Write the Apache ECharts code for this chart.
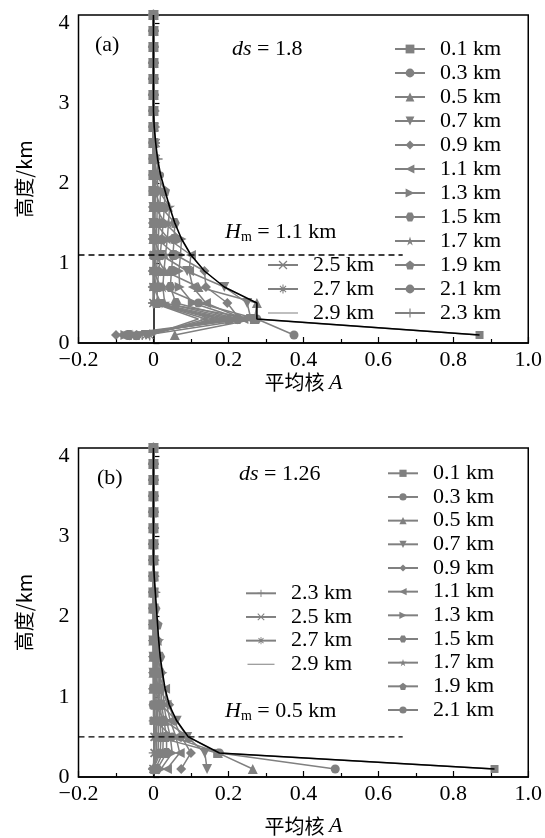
<!DOCTYPE html>
<html><head><meta charset="utf-8">
<script src="https://cdn.jsdelivr.net/npm/echarts@6/dist/echarts.min.js"></script>
<style>html,body{margin:0;padding:0;background:#fff}#c{width:545px;height:838px}</style>
</head><body><div id="c"></div>
<script>
// ---------- data ----------
const levels = [0.1,0.3,0.5,0.7,0.9,1.1,1.3,1.5,1.7,1.9,2.1,2.3,2.5,2.7,2.9,3.1,3.3,3.5,3.7,3.9,4.1];
const seriesNames = ['0.1 km','0.3 km','0.5 km','0.7 km','0.9 km','1.1 km','1.3 km','1.5 km','1.7 km','1.9 km','2.1 km','2.3 km','2.5 km','2.7 km','2.9 km'];
const xTickLabels = ['\u22120.2','0','0.2','0.4','0.6','0.8','1.0'];
const yTickLabels = ['0','1','2','3','4'];

// panel (a) averaging kernels, ds = 1.8
const a01 = [0.87,0.27,0.02,0,0,0,0,0,0,0,0,0,0,0,0,0,0,0,0,0,0];
const a03 = [0.375,0.276,0.12,0.02,0,0,0,0,0,0,0,0,0,0,0,0,0,0,0,0,0];
const a05 = [0.057,0.27,0.276,0.12,0.03,0.005,0,0,0,0,0,0,0,0,0,0,0,0,0,0,0];
const a07 = [-0.02,0.26,0.25,0.189,0.09,0.02,0,0,0,0,0,0,0,0,0,0,0,0,0,0,0];
const a09 = [-0.1,0.23,0.197,0.14,0.136,0.06,0.01,0,0,0,0,0,0,0,0,0,0,0,0,0,0];
const a11 = [-0.085,0.24,0.14,0.105,0.095,0.1,0.04,0.005,0,0,0,0,0,0,0,0,0,0,0,0,0];
const a13 = [-0.075,0.235,0.105,0.07,0.068,0.072,0.075,0.03,0.005,0,0,0,0,0,0,0,0,0,0,0,0];
const a15 = [-0.065,0.225,0.06,0.045,0.048,0.052,0.055,0.057,0.02,0.003,0,0,0,0,0,0,0,0,0,0,0];
const a17 = [-0.055,0.215,0.03,0.025,0.028,0.032,0.037,0.04,0.043,0.015,0.002,0,0,0,0,0,0,0,0,0,0];
const a19 = [-0.045,0.2,0.01,0.01,0.014,0.018,0.022,0.026,0.029,0.031,0.01,0.001,0,0,0,0,0,0,0,0,0];
const a21 = [-0.04,0.185,0,0.005,0.008,0.011,0.013,0.015,0.017,0.019,0.019,0.007,0,0,0,0,0,0,0,0,0];
const a23 = [-0.03,0.175,0,0,0.004,0.006,0.008,0.009,0.01,0.011,0.011,0.011,0.004,0,0,0,0,0,0,0,0];
const a25 = [-0.02,0.16,0,0,0,0.002,0.003,0.004,0.005,0.005,0.006,0.006,0.006,0.002,0,0,0,0,0,0,0];
const a27 = [-0.01,0.14,0,0,0,0,0,0.001,0.001,0.002,0.002,0.002,0.002,0.002,0.001,0,0,0,0,0,0];
const a29 = [-0.005,0.12,0,0,0,0,0,0,0,0,0.001,0.001,0.001,0.001,0.001,0,0,0,0,0,0];
const envA = [0.87,0.276,0.276,0.189,0.136,0.10,0.075,0.057,0.043,0.031,0.019,0.011,0.006,0.002,0,0,0,0,0,0,0];
const hmA = 1.1;

// panel (b) averaging kernels, ds = 1.26
const b01 = [0.91,0.17,0.01,0,0,0,0,0,0,0,0,0,0,0,0,0,0,0,0,0,0];
const b03 = [0.485,0.176,0.05,0.005,0,0,0,0,0,0,0,0,0,0,0,0,0,0,0,0,0];
const b05 = [0.265,0.172,0.093,0.03,0.005,0,0,0,0,0,0,0,0,0,0,0,0,0,0,0,0];
const b07 = [0.143,0.137,0.09,0.062,0.02,0.003,0,0,0,0,0,0,0,0,0,0,0,0,0,0,0];
const b09 = [0.074,0.1,0.075,0.055,0.042,0.015,0.002,0,0,0,0,0,0,0,0,0,0,0,0,0,0];
const b11 = [0.036,0.07,0.06,0.045,0.035,0.031,0.01,0.001,0,0,0,0,0,0,0,0,0,0,0,0,0];
const b13 = [0.02,0.05,0.045,0.035,0.028,0.025,0.024,0.008,0.001,0,0,0,0,0,0,0,0,0,0,0,0];
const b15 = [0.01,0.035,0.035,0.028,0.022,0.02,0.019,0.018,0.006,0.001,0,0,0,0,0,0,0,0,0,0,0];
const b17 = [0.005,0.025,0.026,0.022,0.018,0.016,0.015,0.014,0.014,0.004,0,0,0,0,0,0,0,0,0,0,0];
const b19 = [0,0.018,0.02,0.017,0.014,0.013,0.012,0.011,0.011,0.011,0.003,0,0,0,0,0,0,0,0,0,0];
const b21 = [0,0.012,0.014,0.012,0.01,0.009,0.009,0.008,0.008,0.008,0.008,0.002,0,0,0,0,0,0,0,0,0];
const b23 = [0,0.008,0.009,0.008,0.007,0.006,0.006,0.005,0.005,0.005,0.005,0.005,0.001,0,0,0,0,0,0,0,0];
const b25 = [0,0.004,0.005,0.004,0.004,0.003,0.003,0.003,0.003,0.002,0.002,0.002,0.002,0.001,0,0,0,0,0,0,0];
const b27 = [0,0.002,0.002,0.002,0.002,0.001,0.001,0.001,0.001,0.001,0.001,0.001,0.001,0.001,0,0,0,0,0,0,0];
const b29 = [0,0.001,0.001,0.001,0.001,0.001,0,0,0,0,0,0,0,0,0,0,0,0,0,0,0];
const envB = [0.91,0.176,0.093,0.062,0.042,0.031,0.024,0.018,0.014,0.011,0.008,0.005,0.002,0,0,0,0,0,0,0,0];
const hmB = 0.5;
const dashEnd = [-0.2, 0.665];

// ---------- styling ----------
const GRAY = '#808080';
const SERIF = 'Liberation Serif';
const FS = 22;
const symbols = [
  'rect','circle','triangle',
  'path://M0,0L10,0L5,9Z',
  'diamond',
  'path://M0,5L9,0L9,10Z',
  'path://M0,0L9,5L0,10Z',
  'path://M2.5,0.7L7.5,0.7L10,5L7.5,9.3L2.5,9.3L0,5Z',
  'path://M5,0L6.2,3.6L10,3.6L6.9,5.8L8.1,9.5L5,7.2L1.9,9.5L3.1,5.8L0,3.6L3.8,3.6Z',
  'path://M5,0L10,3.8L8.1,10L1.9,10L0,3.8Z',
  'circle',
  'path://M4.35,0H5.65V4.35H10V5.65H5.65V10H4.35V5.65H0V4.35H4.35Z',
  'path://M0,1L1,0L5,4L9,0L10,1L6,5L10,9L9,10L5,6L1,10L0,9L4,5Z',
  'path://M4.4,0H5.6V4.4H10V5.6H5.6V10H4.4V5.6H0V4.4H4.4Z M1.1,2L2,1.1L5,4.1L8,1.1L8.9,2L5.9,5L8.9,8L8,8.9L5,5.9L2,8.9L1.1,8L4.1,5Z',
  'none'
];
const symSizes = [8,9,10,10,10,10,10,10,11,10,7,10,9,11,0];
const lineIcon = 'path://M0,0L0.001,0L0.001,10L0,10Z M0,4.4L30,4.4L30,5.6L0,5.6Z';

const kernelsA = [a01,a03,a05,a07,a09,a11,a13,a15,a17,a19,a21,a23,a25,a27,a29];
const kernelsB = [b01,b03,b05,b07,b09,b11,b13,b15,b17,b19,b21,b23,b25,b27,b29];

function kernelSeries(arrs, gi) {
  return arrs.map((vals, k) => ({
    name: seriesNames[k], type: 'line', xAxisIndex: gi, yAxisIndex: gi,
    data: vals.map((v, j) => [v, levels[j]]),
    symbol: symbols[k], symbolSize: symSizes[k], showSymbol: symbols[k] !== 'none',
    lineStyle: {color: GRAY, width: 1.5},
    itemStyle: {color: GRAY, borderWidth: 0},
    z: 2, silent: true
  }));
}

function envSeries(vals, gi) {
  return {
    name: 'env' + gi, type: 'line', xAxisIndex: gi, yAxisIndex: gi,
    data: vals.map((v, j) => [v, levels[j]]),
    symbol: 'none', lineStyle: {color: '#000', width: 1.6}, z: 5, silent: true
  };
}
function dashSeries(h, gi) {
  return {
    name: 'hm' + gi, type: 'line', xAxisIndex: gi, yAxisIndex: gi,
    data: dashEnd.map(x => [x, h]),
    symbol: 'none', lineStyle: {color: '#000', width: 1.3, type: [6, 4]}, z: 6, silent: true
  };
}

function xAxisCfg(gi, gap) {
  return {
    gridIndex: gi, type: 'value', min: -0.2, max: 1.0, interval: 0.2,
    axisLine: {show: true, lineStyle: {color: '#000', width: 1.5}},
    axisTick: {show: true, inside: true, length: 6, lineStyle: {color: '#000', width: 1.2}},
    minorTick: {show: true, splitNumber: 2, length: 4, lineStyle: {color: '#000', width: 1.2}},
    splitLine: {show: false},
    axisLabel: {formatter: (v, i) => xTickLabels[i] ?? '', fontFamily: SERIF, fontSize: FS, color: '#000', margin: 6},
    name: '平均核 {i|A}', nameLocation: 'middle', nameGap: gap,
    nameTextStyle: {fontFamily: 'Noto Sans CJK SC', fontSize: 20, color: '#000',
      rich: {i: {fontFamily: SERIF, fontStyle: 'italic', fontSize: FS, color: '#000'}}}
  };
}
function yAxisCfg(gi) {
  return {
    gridIndex: gi, type: 'value', min: 0, max: 4.1, interval: 1,
    axisLine: {show: true, lineStyle: {color: '#000', width: 1.5}},
    axisTick: {show: true, inside: true, length: 6, lineStyle: {color: '#000', width: 1.2}},
    minorTick: {show: true, splitNumber: 2, length: 4, lineStyle: {color: '#000', width: 1.2}},
    splitLine: {show: false},
    axisLabel: {formatter: (v, i) => yTickLabels[i] ?? '', showMaxLabel: false, fontFamily: SERIF, fontSize: FS, color: '#000', margin: 9},
    name: '高度/km', nameLocation: 'middle', nameRotate: 90, nameGap: 44,
    nameTextStyle: {fontFamily: 'Noto Sans CJK SC', fontSize: 20, color: '#000'}
  };
}
function legendCfg(names, left, top, itemH, gap) {
  return {
    orient: 'vertical', left: left, top: top, itemWidth: 30, itemHeight: itemH, itemGap: gap,
    selectedMode: false, padding: 0,
    data: names.map(n => n === '2.9 km' ? {name: n, icon: lineIcon} : n),
    textStyle: {fontFamily: SERIF, fontSize: FS, lineHeight: 21, color: '#000', padding: [0, 0, 0, 10]}
  };
}
function textEl(x, y, text) {
  return {type: 'text', x: x, y: y, silent: true, z: 50,
    style: {text: text, fill: '#000', fontFamily: SERIF, fontSize: FS, textVerticalAlign: 'middle',
      rich: {
        n: {fontFamily: SERIF, fontSize: FS, fill: '#000', lineHeight: 24},
        i: {fontFamily: SERIF, fontSize: FS, fontStyle: 'italic', fill: '#000', lineHeight: 24},
        s: {fontFamily: SERIF, fontSize: 14, fill: '#000', lineHeight: 24, verticalAlign: 'bottom'}
      }}};
}

const chart = echarts.init(document.getElementById('c'), null, {renderer: 'canvas'});
chart.setOption({
  animation: false,
  backgroundColor: '#fff',
  grid: [
    {left: 78.5, top: 15, width: 450, height: 328, show: true, borderColor: '#000', borderWidth: 1.5, backgroundColor: 'transparent'},
    {left: 78.5, top: 448, width: 450, height: 329, show: true, borderColor: '#000', borderWidth: 1.5, backgroundColor: 'transparent'}
  ],
  xAxis: [xAxisCfg(0, 26), xAxisCfg(1, 38)],
  yAxis: [yAxisCfg(0), yAxisCfg(1)],
  legend: [
    legendCfg(seriesNames.slice(0, 12), 394, 38, 11, 2),
    legendCfg(seriesNames.slice(12), 267, 254, 11, 2),
    legendCfg(seriesNames.slice(0, 11), 387, 462.3, 9, 1.67),
    legendCfg(seriesNames.slice(11), 245, 582.3, 9, 1.67)
  ],
  graphic: [
    textEl(95, 45, '{n|(a)}'),
    textEl(232, 49, '{i|ds}{n| = 1.8}'),
    textEl(225, 232, '{i|H}{s|m}{n| = 1.1 km}'),
    textEl(97, 478, '{n|(b)}'),
    textEl(239, 474, '{i|ds}{n| = 1.26}'),
    textEl(225, 711, '{i|H}{s|m}{n| = 0.5 km}')
  ],
  series: [
    ...kernelSeries(kernelsA, 0),
    ...kernelSeries(kernelsB, 1),
    envSeries(envA, 0), envSeries(envB, 1),
    dashSeries(hmA, 0), dashSeries(hmB, 1)
  ]
});
</script></body></html>
